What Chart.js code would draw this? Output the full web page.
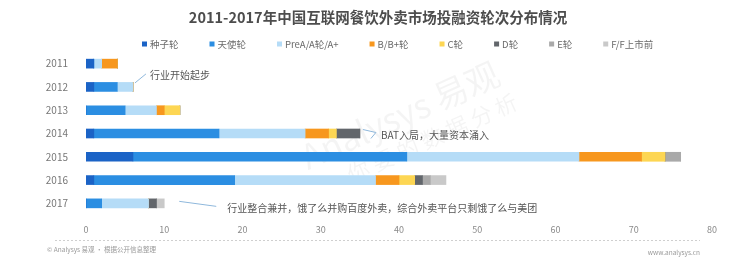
<!DOCTYPE html>
<html><head><meta charset="utf-8">
<script src="https://cdn.jsdelivr.net/npm/chart.js@4/dist/chart.umd.min.js"></script>
<style>html,body{margin:0;padding:0;background:#fff;}#wrap{position:relative;width:751px;height:261px;}</style>
</head><body><div id="wrap"><canvas id="c" width="751" height="261"></canvas></div>
<script>
const chartTitle = '2011-2017年中国互联网餐饮外卖市场投融资轮次分布情况';
const years = ['2011','2012','2013','2014','2015','2016','2017'];
const seriesNames = ['种子轮','天使轮','PreA/A轮/A+','B/B+轮','C轮','D轮','E轮','F/F上市前'];
const seed   = [1,1,0,1,6,1,0];
const angel  = [0,3,5,16,35,18,2];
const roundA = [1,2,4,11,22,18,6];
const roundB = [2,0,1,3,8,3,0];
const roundC = [0,0,2,1,3,2,0];
const roundD = [0,0,0,3,0,1,1];
const roundE = [0,0,0,0,2,1,0];
const roundF = [0,0,0,0,0,2,1];
const xTickValues = [0,10,20,30,40,50,60,70,80];
const noteYears = ['2012','2014','2017'];
const noteTexts = ['行业开始起步','BAT入局，大量资本涌入','行业整合兼并，饿了么并购百度外卖，综合外卖平台只剩饿了么与美团'];
const footerLeft = '© Analysys 易观 · 根据公开信息整理';
const footerRight = 'www.analysys.cn';

const colors = ['#1b63c6','#2b8ee2','#b5dcf7','#f7971e','#fdd653','#62666b','#a9a9a9','#c9c9c9'];
const allSeries = [seed, angel, roundA, roundB, roundC, roundD, roundE, roundF];
const FONT = '"Noto Sans CJK SC","Noto Sans",sans-serif';

const datasets = allSeries.map((vals, i) => ({
  label: seriesNames[i], data: vals, backgroundColor: colors[i],
  borderWidth: 0, barThickness: 9, stack: 's'
}));

// note connector styles (layout only)
const noteStyles = [
  {path: [[2,-4],[13,-13]], tx: 17, ty: -12},
  {path: [[3,-4],[16,-1],[11,5]], tx: 21, ty: 2},
  {path: [[15,-2],[52,3]], tx: 63, ty: 5}
];

const deco = {
  id: 'deco',
  beforeDraw(chart) {
    const ctx = chart.ctx;
    ctx.save();
    // title
    ctx.fillStyle = '#4d4d4d';
    ctx.font = 'bold 14.5px ' + FONT;
    ctx.textAlign = 'center'; ctx.textBaseline = 'middle';
    ctx.fillText(chartTitle, 378, 17);
    // legend
    ctx.font = '9.5px ' + FONT;
    ctx.textAlign = 'left';
    let x = 142;
    seriesNames.forEach((n, i) => {
      ctx.fillStyle = colors[i];
      ctx.fillRect(x, 41.5, 5, 5);
      ctx.fillStyle = '#6a6a6a';
      ctx.fillText(n, x + 8, 44);
      x += 8 + ctx.measureText(n).width + 31;
    });
    // watermark
    ctx.globalAlpha = 0.045;
    ctx.fillStyle = '#000';
    ctx.translate(400, 115);
    ctx.rotate(-0.42);
    ctx.font = '34px ' + FONT;
    ctx.textAlign = 'center';
    ctx.fillText('Analysys 易观', 0, 0);
    ctx.font = '22px ' + FONT;
    ctx.fillText('你 要 的 数 据 分 析', 20, 34);
    ctx.restore();
  },
  afterDraw(chart) {
    const ctx = chart.ctx;
    const xs = chart.scales.x, ys = chart.scales.y;
    ctx.save();
    // notes anchored at stacked bar ends
    noteYears.forEach((yr, k) => {
      const idx = years.indexOf(yr);
      const total = allSeries.reduce((s, arr) => s + arr[idx], 0);
      const bx = xs.getPixelForValue(total), by = ys.getPixelForValue(idx);
      const st = noteStyles[k];
      ctx.strokeStyle = '#8fb8dc'; ctx.lineWidth = 1;
      ctx.beginPath();
      st.path.forEach((p, j) => { if (j === 0) ctx.moveTo(bx + p[0], by + p[1]); else ctx.lineTo(bx + p[0], by + p[1]); });
      ctx.stroke();
      ctx.fillStyle = '#555';
      ctx.font = '10px ' + FONT;
      ctx.textAlign = 'left'; ctx.textBaseline = 'middle';
      ctx.fillText(noteTexts[k], bx + st.tx, by + st.ty);
    });
    // footer dashed rule
    ctx.strokeStyle = '#cfcfcf'; ctx.setLineDash([2,2]);
    ctx.beginPath(); ctx.moveTo(55, 240.5); ctx.lineTo(700, 240.5); ctx.stroke();
    ctx.setLineDash([]);
    ctx.fillStyle = '#999'; ctx.font = '6.5px ' + FONT;
    ctx.textAlign = 'left'; ctx.textBaseline = 'middle';
    ctx.fillText(footerLeft, 47, 250);
    ctx.textAlign = 'right';
    ctx.fillText(footerRight, 700, 253);
    ctx.restore();
  }
};

new Chart(document.getElementById('c'), {
  type: 'bar',
  data: { labels: years, datasets },
  options: {
    indexAxis: 'y', responsive: false, animation: false,
    layout: { padding: { top: 52, right: 39, left: 0, bottom: 0 } },
    plugins: { legend: { display: false }, title: { display: false }, tooltip: { enabled: false } },
    scales: {
      x: {
        stacked: true, min: 0, max: 80,
        afterBuildTicks(s) { s.ticks = xTickValues.map(v => ({ value: v })); },
        afterFit(s) { s.height = 46; },
        grid: { display: false, drawTicks: false }, border: { display: false },
        ticks: { color: '#8a8a8a', font: { size: 9, family: FONT }, padding: 9 }
      },
      y: {
        stacked: true,
        afterFit(s) { s.width = 86; },
        grid: { display: false, drawTicks: false }, border: { display: false },
        ticks: { color: '#777', font: { size: 10, family: FONT }, padding: 18 }
      }
    }
  },
  plugins: [deco]
});
</script></body></html>
